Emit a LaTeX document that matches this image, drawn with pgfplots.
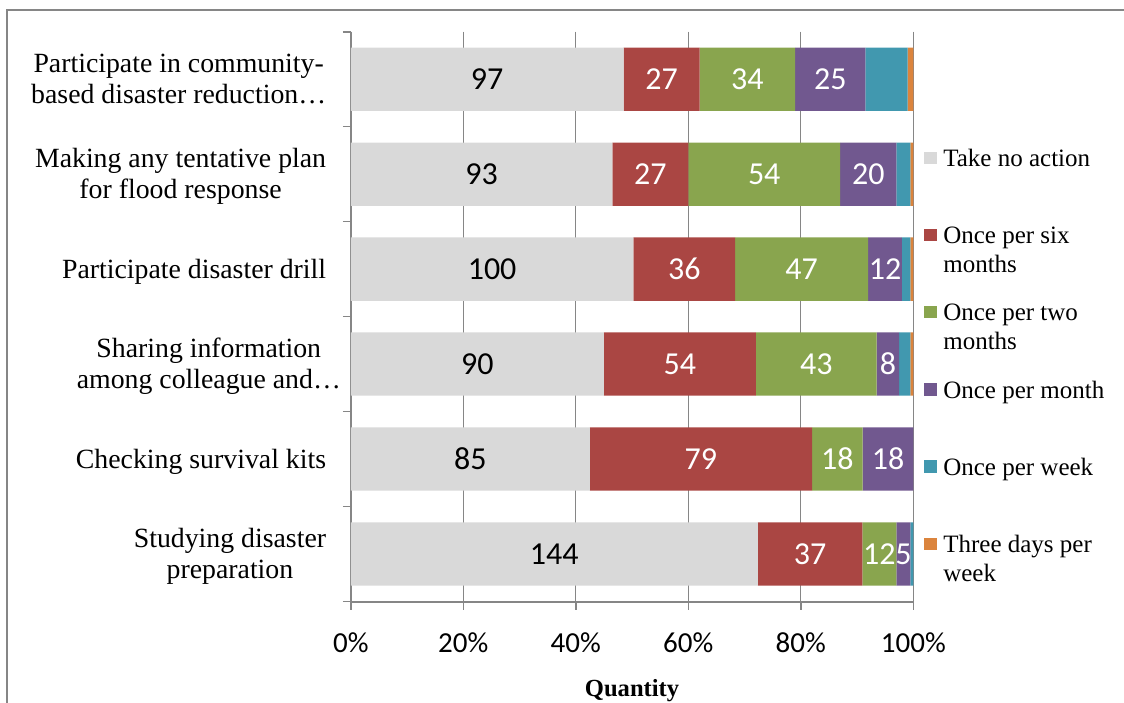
\documentclass[border=0pt]{standalone}
\usepackage{pgfplots}
\pgfplotsset{compat=1.18}
\usepackage{pgfplotstable}
\usepackage{fontspec}
\setmainfont{Liberation Serif}
\newfontfamily\carlito{Carlito}

\definecolor{cgray}{HTML}{D9D9D9}
\definecolor{cred}{HTML}{AA4643}
\definecolor{cgreen}{HTML}{89A54E}
\definecolor{cpurple}{HTML}{71588F}
\definecolor{cteal}{HTML}{4198AF}
\definecolor{corange}{HTML}{DB843D}
\definecolor{axgray}{HTML}{868686}

% counts per category; tot = number of respondents per row
\pgfplotstableread{
idx a b c d e f tot
0 97 27 34 25 15 2 200
1 93 27 54 20 5 1 200
2 100 36 47 12 3 1 199
3 90 54 43 8 4 1 200
4 85 79 18 18 0 0 200
5 144 37 12 5 1 0 199
}\data

\newcommand\sr{\rule[-3.1pt]{0pt}{15.5pt}}
\newcommand\cl[1]{{\renewcommand\arraystretch{0}\begin{tabular}{@{}c@{}}#1\end{tabular}}}

\pgfplotsset{
  lab/.style={nodes near coords,
    nodes near coords style={font=\fontsize{16}{18}\selectfont\carlito, text=#1, anchor=center, inner sep=0pt}},
}

\begin{document}
\begin{tikzpicture}
\useasboundingbox (0,0) rectangle (562pt,351pt);
\draw[axgray, line width=0.6pt] (3.5pt,-10pt) -- (3.5pt,346pt) -- (580pt,346pt);
\begin{axis}[
  at={(175.4pt,50.25pt)}, anchor=south west,
  scale only axis, width=281.25pt, height=284.9pt,
  xbar stacked, bar width=31.65pt,
  xmin=0, xmax=100, ymin=-0.5, ymax=5.5, y dir=reverse,
  axis x line*=bottom, axis y line*=left,
  axis line style={draw=axgray, line width=1pt},
  tick align=outside, major tick length=4pt,
  tick style={draw=axgray, line width=0.8pt},
  /pgf/number format/assume math mode=true,
  point meta=explicit,
  xtick={0,20,...,100}, xticklabels={0\%,20\%,40\%,60\%,80\%,100\%},
  xticklabel style={font=\fontsize{14.5}{16}\selectfont\carlito, inner sep=0pt, anchor=base, yshift=-21.25pt},
  ytick={-0.5,0.5,...,5.5}, yticklabels={{},{},{},{},{},{},{}},
  extra y ticks={0,1,2,3,4,5},
  extra y tick labels={
    {\cl{\sr Participate in community-\\\sr based disaster reduction…}},
    {\cl{\sr Making any tentative plan\\\sr for flood response}},
    {\cl{\sr Participate disaster drill}},
    {\makebox[\dimexpr\width-7.35pt\relax][l]{\cl{\sr Sharing information\\\sr among colleague and…}}},
    {\cl{\sr Checking survival kits}},
    {\cl{\sr Studying disaster\\\sr preparation}}},
  extra y tick style={tick style={draw=none}, yticklabel style={anchor=east, inner sep=0pt, xshift=-8.15pt, font=\fontsize{13.9}{15.5}\selectfont}},
  xmajorgrids, major grid style={draw=axgray, line width=0.6pt},
  xlabel={Quantity},
  xlabel style={at={(axis description cs:0.5,0)}, anchor=base, yshift=-47.25pt, font=\fontsize{12.3}{14}\selectfont\bfseries},
  legend style={at={(1.0196,0.8020)}, anchor=north west, draw=none, fill=none,
    inner sep=0pt, outer sep=0pt, row sep=25.3pt, column sep=3.3pt,
    font=\fontsize{12.5}{14.5}\selectfont,
    nodes={text height=11pt, text depth=2.3pt, inner sep=0pt}, cells={anchor=west}},
  legend cell align=left,
  legend image code/.code={\fill[#1] (0pt,-3.1pt) rectangle (6.2pt,3.1pt);},
]
\addplot[fill=cgray, draw=none, lab=black] table[x expr=\thisrow{a}/\thisrow{tot}*100, y=idx, meta=a]{\data};
\addlegendentry{Take no action}
\addplot[fill=cred, draw=none, lab=white] table[x expr=\thisrow{b}/\thisrow{tot}*100, y=idx, meta=b]{\data};
\addlegendentry{\parbox[t]{80pt}{Once per six\\months}}
\addplot[fill=cgreen, draw=none, lab=white] table[x expr=\thisrow{c}/\thisrow{tot}*100, y=idx, meta=c]{\data};
\addlegendentry{\parbox[t]{80pt}{Once per two\\months}}
\addplot[fill=cpurple, draw=none, lab=white] table[x expr=\thisrow{d}/\thisrow{tot}*100, y=idx, meta=d]{\data};
\addlegendentry{Once per month}
\addplot[fill=cteal, draw=none] table[x expr=\thisrow{e}/\thisrow{tot}*100, y=idx, meta=e]{\data};
\addlegendentry{Once per week}
\addplot[fill=corange, draw=none] table[x expr=\thisrow{f}/\thisrow{tot}*100, y=idx, meta=f]{\data};
\addlegendentry{\parbox[t]{80pt}{Three days per\\week}}
\end{axis}
\end{tikzpicture}
\end{document}
